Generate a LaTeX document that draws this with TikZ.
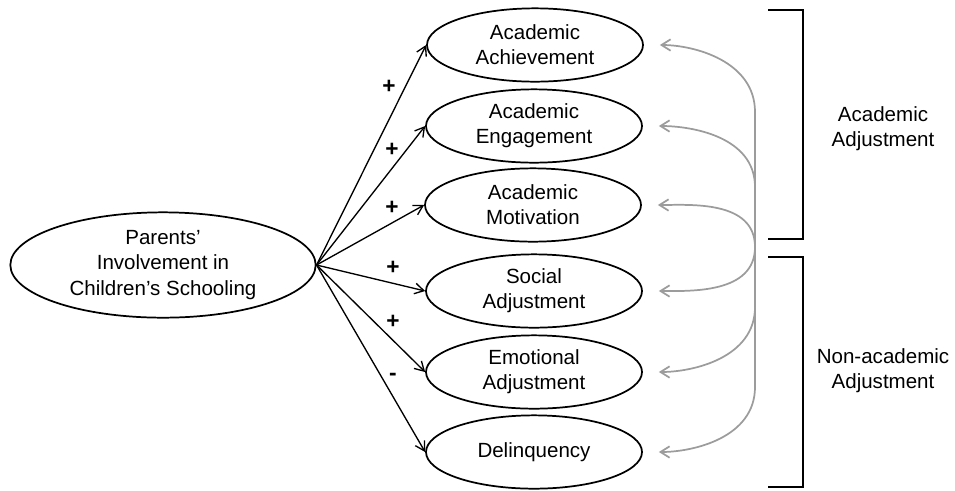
\documentclass[tikz,border=0pt]{standalone}
\usepackage{xcolor}
\usepackage{fontspec}
\setmainfont{Liberation Sans}
\usepackage{tikz}
\usetikzlibrary{arrows.meta,shapes.geometric}
\definecolor{linkgray}{HTML}{9C9C9C}
\tikzset{
  source/.style={draw, ellipse, line width=1.3pt, align=center, inner sep=0pt, minimum width=229pt, minimum height=79pt},
  outcome/.style={draw, ellipse, line width=1.3pt, align=center, inner sep=0pt, minimum width=162pt, minimum height=55pt},
  sign/.style={font=\fontsize{17}{20}\selectfont\bfseries, inner sep=1pt},
  grouplabel/.style={align=center},
  path/.style={-{Straight Barb[length=2.4mm, width=2.8mm]}, line width=1pt},
  feedback/.style={-{Straight Barb[length=2.4mm, width=3mm]}, line width=1.3pt, draw=linkgray, shorten >=12pt},
  bracket/.style={line width=1.6pt}
}
\begin{document}
\begin{tikzpicture}[x=0.75pt, y=-0.75pt, font=\fontsize{15.4}{18.8}\selectfont]
  \useasboundingbox (0,0) rectangle (955,490);

  \node[source] (parents) at (163,265) {Parents'\\Involvement in\\Children's Schooling};

  \node[outcome] (achieve) at (535,45) {Academic\\Achievement};
  \node[outcome] (engage) at (534,126) {Academic\\Engagement};
  \node[outcome] (motiv) at (533,205) {Academic\\Motivation};
  \node[outcome] (social) at (534,291) {Social\\Adjustment};
  \node[outcome] (emotion) at (534,372) {Emotional\\Adjustment};
  \node[outcome] (delinq) at (534,452) {Delinquency};

  \draw[path] (parents.east) -- (achieve.west);
  \draw[path] (parents.east) -- (engage.west);
  \draw[path] (parents.east) -- (motiv.west);
  \draw[path] (parents.east) -- (social.west);
  \draw[path] (parents.east) -- (emotion.west);
  \draw[path] (parents.east) -- (delinq.west);

  \node[sign] (s1) at (389,87) {+};
  \node[sign] (s2) at (392,150) {+};
  \node[sign] (s3) at (392,208) {+};
  \node[sign] (s4) at (393,268) {+};
  \node[sign] (s5) at (393,322) {+};
  \node[sign] (s6) at (393,377) {-};

  % feedback arrows from the hub
  \coordinate (hub) at (755,247);
  \draw[feedback] (hub) -- ++(0,-135) to[out=90, in=0] (achieve.east);
  \draw[feedback] (hub) -- ++(0,-60) to[out=90, in=0] (engage.east);
  \draw[feedback] (hub) to[out=90, in=0] (motiv.east);
  \draw[feedback] (hub) to[out=-90, in=0] (social.east);
  \draw[feedback] (hub) -- ++(0,60) to[out=-90, in=0] (emotion.east);
  \draw[feedback] (hub) -- ++(0,140) to[out=-90, in=0] (delinq.east);

  \draw[bracket] (768,10) -- (803,10) -- (803,239) -- (768,239);
  \draw[bracket] (768,257) -- (803,257) -- (803,487) -- (768,487);
  \node[grouplabel] (acad) at (883,129) {Academic\\Adjustment};
  \node[grouplabel] (nonacad) at (883,371) {Non-academic\\Adjustment};
\end{tikzpicture}
\end{document}
